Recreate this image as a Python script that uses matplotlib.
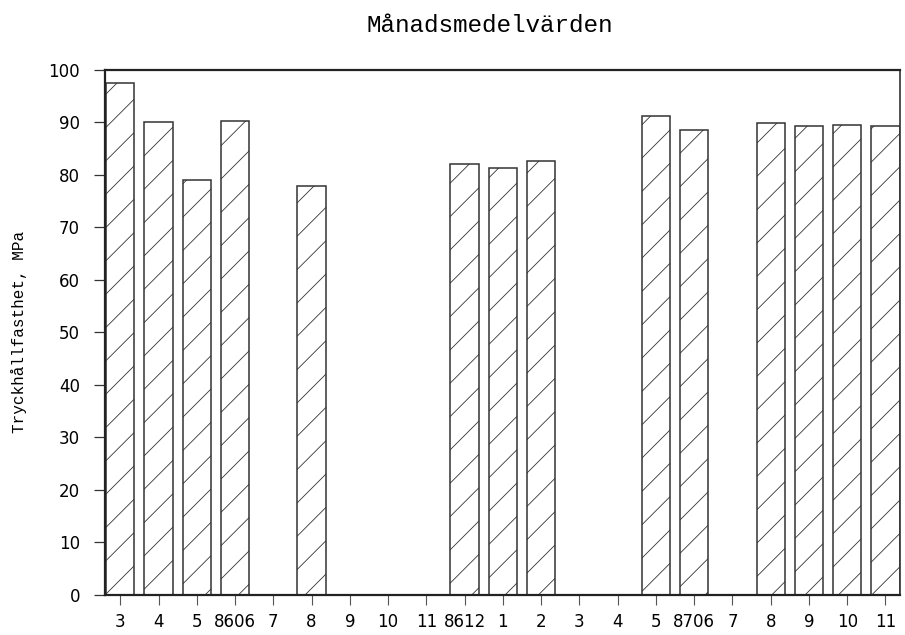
import numpy as np
import matplotlib
matplotlib.use("Agg")
import matplotlib.pyplot as plt

# month labels (yymm marks the start of a new half-year block)
labels = ["3", "4", "5", "8606", "7", "8", "9", "10", "11", "8612", "1",
          "2", "3", "4", "5", "8706", "7", "8", "9", "10", "11"]
# monthly mean compressive strength, MPa (None = no data)
values = [97.5, 90.0, 79.0, 90.3, None, 77.8, None, None, None, 82.0, 81.3,
          82.7, None, None, 91.3, 88.5, None, 89.8, 89.4, 89.5, 89.3]

yticks = list(range(0, 101, 10))

plt.rcParams["hatch.linewidth"] = 0.6
plt.rcParams["hatch.color"] = "#9a9a9a"

fig = plt.figure(figsize=(9.05, 6.35), dpi=100)
ax = fig.add_axes([0.116, 0.063, 0.8785, 0.827])

# bars ########################################################################
pos = [i for i, v in enumerate(values) if v is not None]
hts = [v for v in values if v is not None]
ax.bar(pos, hts, width=0.74, facecolor="white", edgecolor="#333333",
       linewidth=1.1, hatch="/")

# axes config ##################################################################
ax.set_xlim(-0.4, 20.38)
ax.set_ylim(0, 100)
ax.set_xticks(range(len(labels)))
ax.set_xticklabels(labels, fontsize=12, family="DejaVu Sans")
ax.set_yticks(yticks)
ax.set_yticklabels([str(t) for t in yticks], fontsize=12, family="DejaVu Sans")
ax.tick_params(axis="x", direction="out", length=7, width=0.8, pad=6,
               color="#555555")
ax.tick_params(axis="y", direction="out", length=8, width=0.9, pad=10,
               color="#333333")

for s in ["left", "bottom", "top"]:
    ax.spines[s].set_linewidth(1.6)
    ax.spines[s].set_color("#222222")
ax.spines["right"].set_linewidth(1.2)
ax.spines["right"].set_color("#333333")

ax.set_ylabel("Tryckhållfasthet, MPa", family="Liberation Mono", fontsize=11.5)
ax.yaxis.set_label_coords(-0.098, 0.5)

fig.text(0.541, 0.96, "Månadsmedelvärden", family="Liberation Mono",
         fontsize=17.5, ha="center", va="center")

fig.savefig("out.png", dpi=100, facecolor="white")
